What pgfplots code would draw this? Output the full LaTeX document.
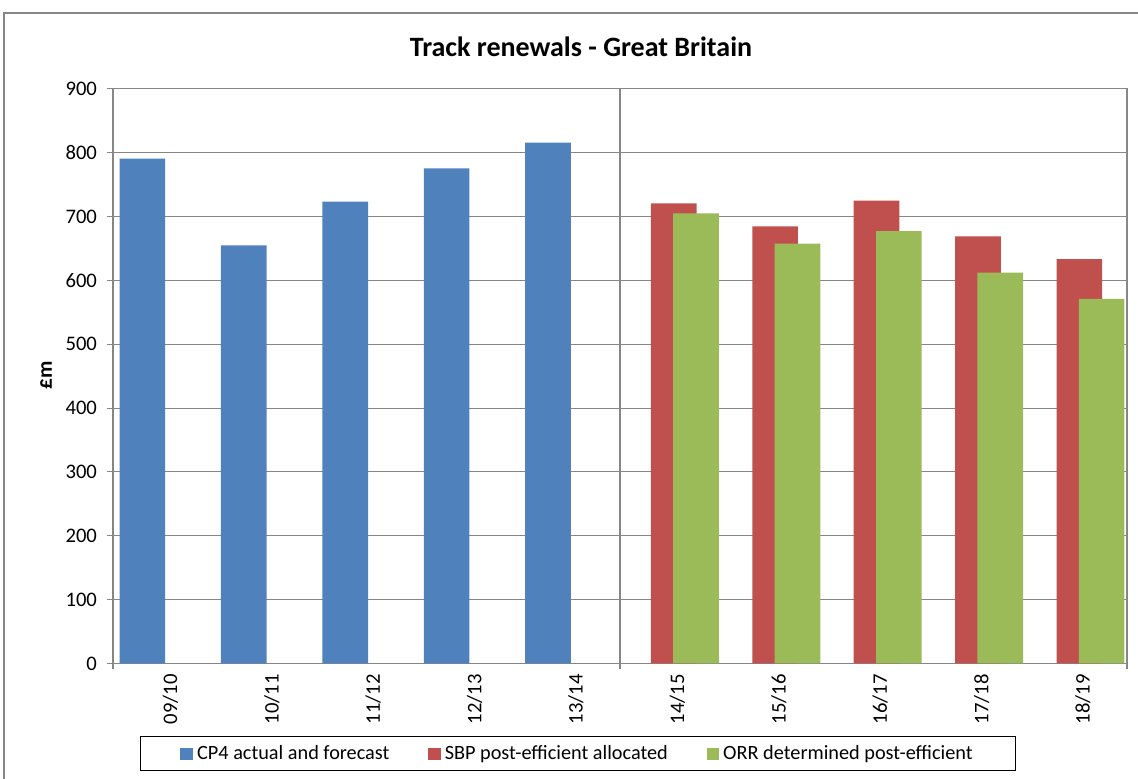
\documentclass[border=0pt]{standalone}
\usepackage{fontspec}
\setmainfont{Carlito}
\usepackage{pgfplots}
\pgfplotsset{compat=1.18}
\definecolor{cpblue}{HTML}{4F81BD}
\definecolor{sbpred}{HTML}{C0504D}
\definecolor{orrgreen}{HTML}{9BBB59}
\definecolor{gridgray}{HTML}{868686}
\begin{document}
\begin{tikzpicture}
\useasboundingbox (0,0) rectangle (853.5pt,583.5pt);
\draw[gridgray, line width=0.8pt] (3pt,-5pt) -- (3pt,573.75pt) -- (860pt,573.75pt);
\node[font=\bfseries\fontsize{21}{25}\selectfont] at (435.75pt,548.25pt) {Track renewals - Great Britain};
\node[rotate=90, font=\bfseries\fontsize{16}{19}\selectfont] at (34.5pt,302pt) {£m};
\begin{axis}[
  at={(84.75pt,85.9pt)}, anchor=south west,
  scale only axis, width=760.5pt, height=430.9pt,
  ybar, bar width=0.45,
  xmin=-0.5, xmax=9.5, ymin=0, ymax=900,
  ytick={0,100,...,900},
  xtick={0,...,9},
  xticklabels={09/10,10/11,11/12,12/13,13/14,14/15,15/16,16/17,17/18,18/19},
  xticklabel style={rotate=90, anchor=east, yshift=-5pt},
  yticklabel style={xshift=-4pt},
  xtick style={draw=none},
  extra x ticks={-0.5,4.5,9.5}, extra x tick labels={},
  extra x tick style={grid=major, xtick style={draw=gridgray, line width=0.8pt}},
  tick pos=left,
  ymajorgrids, grid style={gridgray, line width=0.8pt},
  axis line style={gridgray, line width=0.8pt},
  ytick style={gridgray, line width=0.8pt},
  tick align=outside, major tick length=4.5pt,
  /pgf/number format/assume math mode=true,
  tick label style={font=\fontsize{15.5}{18}\selectfont},
  legend columns=3,
  legend style={at={(0.0266,-0.127)}, anchor=north west, draw=black, line width=0.75pt,
    font=\fontsize{15.2}{18}\selectfont, inner xsep=30pt, inner ysep=4.5pt,
    /tikz/every even column/.append style={column sep=27pt}},
  legend image code/.code={\path[#1,draw=none] (0pt,-4.6pt) rectangle (9.5pt,4.6pt); \path (10.5pt,0pt);},
]
\addplot[fill=cpblue, draw=none, bar shift=-0.21] coordinates {(0,791) (1,655) (2,723.5) (3,775.5) (4,816)};
\addplot[fill=sbpred, draw=none, bar shift=0.03] coordinates {(5,720.7) (6,684.7) (7,725) (8,669) (9,633.5)};
\addplot[fill=orrgreen, draw=none, bar shift=0.25] coordinates {(5,705) (6,657.6) (7,677.3) (8,612.2) (9,571)};
\legend{CP4 actual and forecast, SBP post-efficient allocated, ORR determined post-efficient}
\end{axis}
\end{tikzpicture}
\end{document}
